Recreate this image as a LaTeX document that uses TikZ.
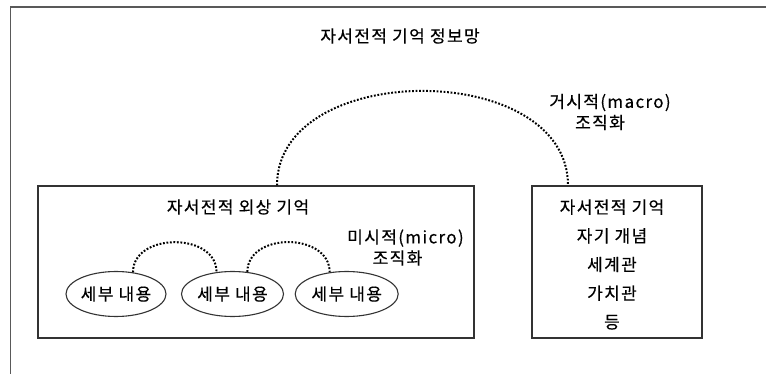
\documentclass[tikz,border=0pt]{standalone}
\usepackage{fontspec}
\setmainfont{Noto Sans CJK KR}[LetterSpace=8,FakeBold=0.35]
\usetikzlibrary{shapes.geometric,calc}
\tikzset{
  txt/.style={inner sep=0pt, font=\fontsize{17pt}{21pt}\selectfont, align=center},
  boxnode/.style={draw=black!80, line width=1.2pt, inner sep=0pt},
  item/.style={ellipse, draw=black!80, line width=1.1pt, minimum width=100pt,
    minimum height=45pt, inner sep=0pt, font=\fontsize{17pt}{20pt}\selectfont},
  dots/.style={line width=2pt, dash pattern=on 1.8pt off 1.7pt},
  frame/.style={draw=black!65, line width=1.6pt}
}
\begin{document}
\begin{tikzpicture}[x=1pt,y=1pt]
\useasboundingbox (0,0) rectangle (766,-374);
\fill[white] (0,0) rectangle (766,-374);
\draw[frame] (10.5,-374) -- (10.5,-7) -- (766,-7);

\node[txt] (title) at (400,-36) {자서전적 기억 정보망};

\node[boxnode, minimum width=436pt, minimum height=152pt] (lb) at (256,-262) {};
\node[boxnode, minimum width=170pt, minimum height=152pt] (rb) at (617,-262) {};

\node[txt] (lbt) at (238,-207) {자서전적 외상 기억};
\node[txt] (micro) at (405.5,-247.5) {미시적(micro)\\조직화\hspace*{16pt}};
\node[txt] (macro) at (610,-112) {거시적(macro)\\조직화\hspace*{20pt}};
\node[txt, font=\fontsize{17pt}{28.7pt}\selectfont] (rbt) at (612,-264.5)
  {자서전적 기억\\자기 개념\\세계관\\가치관\\등};

\node[item] (e1) at (116,-294) {세부 내용};
\node[item, minimum width=102pt] (e2) at (232.5,-294) {세부 내용};
\node[item, minimum width=103pt] (e3) at (346.7,-294) {세부 내용};

\draw[dots] (e1.52) .. controls +(0,40) and +(0,40) .. (e2.126);
\draw[dots] (e2.56) .. controls +(0,40) and +(0,40) .. (e3.128);

\coordinate (ma) at ($(lb.north)+(21,0)$);
\coordinate (mb) at ($(rb.north)+(-49,0)$);
\draw[dots] (ma) .. controls +(0,126) and +(0,126) .. (mb);
\end{tikzpicture}
\end{document}
